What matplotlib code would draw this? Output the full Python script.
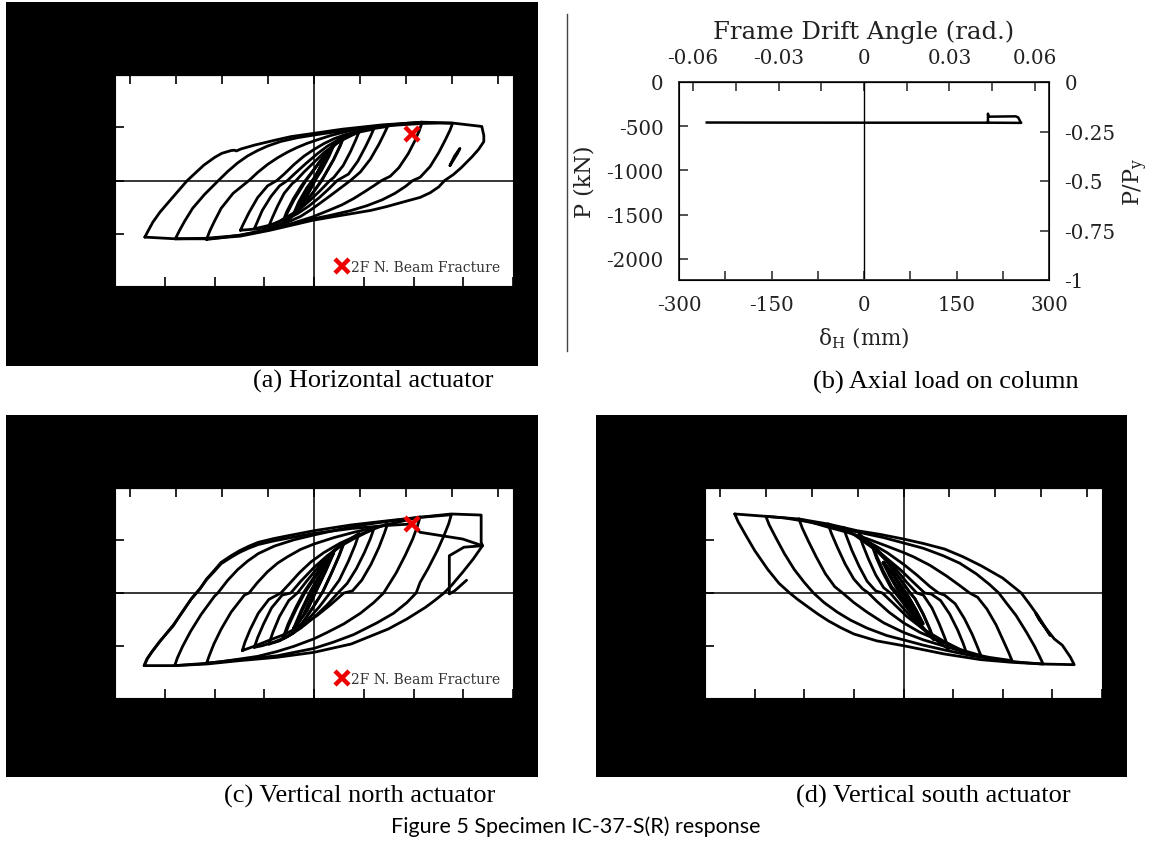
import numpy as np
import matplotlib
matplotlib.use("Agg")
import matplotlib.pyplot as plt

plt.rcParams["axes.unicode_minus"] = False
plt.rcParams["mathtext.fontset"] = "dejavuserif"

W, H = 1151, 845
STOREY_H = 4620.0  # mm, converts lateral displacement to frame drift angle
PY = 2238.0        # kN, column yield axial load

# ---------------- (a) horizontal actuator: displacement (mm) / force (kN) ----------------
horiz_x = [
    [-255, -250, -243, -232, -212, -191, -178, -166, -150, -139, -125, -120, -117, -110, -89, -60, -35, 0, 42, 103, 163, 209, 253,
     256, 256, 248, 238, 222, 210, 197, 188, 175, 160, 135, 110, 86, 42, -2, -35, -67, -111, -162, -209, -255],
    [-209, -203, -195, -183, -165, -144, -130, -115, -100, -85, -70, -50, -25, 0, 25, 55, 90, 125, 163, 190, 209,
     205, 198, 188, 175, 160, 149, 138, 122, 103, 80, 55, 25, -2, -35, -67, -111, -162, -209],
    [-162, -157, -150, -140, -122, -98, -85, -70, -55, -40, -25, -10, 5, 25, 45, 70, 103, 135, 163,
     159, 152, 142, 128, 115, 102, 90, 75, 60, 42, 20, -2, -35, -67, -111, -140, -162],
    [-111, -106, -98, -85, -70, -56, -45, -30, -15, 0, 15, 30, 45, 60, 80, 100, 111,
     106, 98, 85, 70, 55, 40, 25, 10, -5, -20, -40, -60, -85, -111],
    [-90, -85, -78, -65, -52, -40, -28, -12, 5, 20, 35, 50, 70, 90,
     85, 78, 66, 52, 35, 22, 8, -8, -25, -45, -65, -90],
    [-68, -63, -55, -45, -33, -27, -15, 0, 15, 30, 45, 58, 68,
     63, 55, 44, 30, 24, 10, -5, -20, -35, -52, -68],
    [-46, -40, -30, -18, -12, 0, 15, 28, 38, 46, 40, 30, 18, 12, 0, -15, -28, -38, -46],
    [-47, -41, -31, -19, -13, 0, 14, 27, 37, 45, 39, 29, 17, 11, -1, -16, -29, -39, -47],
    [-30, -22, -10, 0, 12, 22, 30, 22, 10, 0, -12, -22, -30],
    [-31, -23, -11, 1, 13, 23, 31, 23, 11, -1, -13, -23, -31],
    [-20, -8, 5, 12, 20, 10, -3, -12, -20],
    [-13, -4, 5, 13, 5, -4, -13],
    [205, 212, 220, 216, 208, 205],
]
horiz_y = [
    [-529, -470, -390, -294, -150, 0, 75, 144, 215, 254, 280, 283, 276, 295, 332, 375, 410, 441, 479, 520, 545, 537, 505,
     420, 363, 290, 220, 120, 55, 0, -60, -115, -158, -200, -243, -279, -325, -372, -420, -466, -520, -545, -545, -529],
    [-545, -470, -380, -260, -130, 0, 85, 165, 230, 280, 322, 365, 400, 425, 448, 472, 497, 518, 533, 537, 535,
     470, 380, 260, 130, 30, 0, -55, -120, -180, -235, -282, -325, -360, -410, -458, -512, -540, -545],
    [-551, -470, -380, -260, -120, 0, 75, 150, 212, 265, 310, 348, 380, 420, 452, 485, 512, 532, 545,
     470, 370, 250, 120, 40, 0, -50, -110, -168, -228, -285, -340, -405, -455, -510, -535, -551],
    [-465, -400, -300, -160, -50, 0, 60, 150, 228, 290, 345, 390, 424, 450, 476, 495, 505,
     440, 340, 200, 80, 0, -70, -140, -208, -275, -335, -390, -425, -452, -465],
    [-452, -380, -280, -150, -50, 0, 70, 160, 250, 320, 375, 415, 455, 480,
     410, 320, 180, 60, 0, -80, -160, -240, -310, -370, -415, -452],
    [-425, -350, -240, -120, -30, 0, 80, 170, 260, 330, 385, 425, 455,
     380, 270, 140, 30, 0, -90, -180, -260, -320, -380, -425],
    [-390, -300, -180, -60, 0, 100, 220, 310, 370, 425, 330, 200, 70, 0, -100, -220, -310, -360, -390],
    [-385, -290, -170, -50, 0, 105, 225, 315, 375, 420, 320, 190, 60, 0, -110, -230, -315, -365, -385],
    [-320, -210, -80, 20, 150, 260, 350, 240, 100, -10, -140, -250, -320],
    [-315, -200, -70, 30, 160, 265, 345, 230, 90, -20, -150, -255, -315],
    [-240, -100, 50, 140, 250, 130, -20, -130, -240],
    [-170, -50, 60, 175, 40, -70, -170],
    [140, 230, 300, 250, 170, 140],
]
horiz_fracture = (148, 438)

# ---------------- (b) axial load on column ----------------
axial_x = [-255, -150, 0, 150, 201, 201, 202, 246, 250, 254, 255, 230, 201]
axial_y = [-458, -459, -460, -460, -460, -358, -392, -388, -400, -455, -462, -461, -460]

# ---------------- (c) vertical north actuator ----------------
north_x = [
    [-256, -252, -245, -232, -212, -200, -185, -172, -162, -150, -140, -125, -112, -98, -84, -60, -39, 0, 56, 112, 160, 207, 252,
     252, 254, 240, 224, 207, 196, 182, 168, 140, 112, 56, 0, -56, -112, -162, -210, -256],
    [-256, -251, -244, -231, -212, -199, -185, -172, -162, -150, -140, -125, -112, -98, -84, -60, -39, 0, 56, 112, 147,
     160, 224, 254],
    [-210, -206, -198, -186, -170, -150, -145, -130, -115, -100, -84, -60, -30, 0, 40, 80, 120, 160, 207,
     203, 196, 186, 172, 160, 154, 140, 120, 95, 60, 30, 0, -56, -112, -162, -210],
    [-162, -158, -151, -140, -125, -105, -98, -85, -70, -55, -40, -20, 0, 30, 60, 95, 130, 160,
     156, 149, 138, 124, 110, 105, 90, 70, 45, 20, 0, -30, -56, -85, -112, -140, -162],
    [-108, -104, -96, -84, -68, -50, -38, -22, -5, 15, 40, 65, 90, 111,
     106, 98, 86, 72, 58, 45, 25, 5, -20, -45, -70, -90, -108],
    [-90, -85, -76, -64, -48, -35, -20, 0, 20, 40, 60, 78, 90,
     85, 76, 64, 50, 36, 20, 0, -20, -40, -60, -78, -90],
    [-68, -62, -52, -38, -25, -10, 10, 30, 50, 68, 62, 52, 38, 24, 8, -12, -32, -52, -68],
    [-46, -38, -26, -14, 0, 15, 30, 46, 38, 26, 14, 0, -15, -30, -46],
    [-47, -39, -27, -15, -1, 14, 29, 45, 37, 25, 13, -1, -16, -31, -47],
    [-30, -18, -5, 10, 30, 18, 5, -10, -30],
    [-31, -19, -6, 9, 29, 17, 4, -11, -31],
    [-15, -4, 7, 16, 5, -6, -15],
    [254, 226, 204, 204, 212, 230],
]
north_y = [
    [-682, -620, -557, -450, -307, -190, -56, 40, 131, 215, 288, 350, 398, 440, 476, 512, 538, 585, 639, 679, 712, 742, 732,
     476, 444, 319, 194, 69, 0, -70, -135, -244, -338, -479, -557, -604, -635, -667, -682, -682],
    [-682, -615, -550, -445, -300, -185, -55, 38, 125, 205, 275, 335, 382, 422, 455, 490, 515, 560, 605, 635, 648,
     570, 507, 444],
    [-682, -610, -500, -360, -200, -30, 0, 120, 220, 300, 370, 440, 500, 545, 600, 645, 680, 710, 735,
     650, 540, 400, 230, 100, 0, -90, -190, -280, -390, -460, -520, -590, -625, -660, -682],
    [-660, -590, -480, -340, -180, -20, 0, 100, 200, 280, 340, 410, 460, 520, 570, 620, 670, 715,
     630, 510, 360, 190, 50, 0, -90, -190, -290, -370, -430, -500, -550, -595, -620, -645, -660],
    [-540, -460, -340, -190, -60, 0, 80, 190, 290, 380, 470, 540, 600, 650,
     560, 430, 270, 120, 20, 0, -110, -210, -310, -390, -450, -500, -540],
    [-510, -420, -290, -140, -20, 0, 110, 240, 350, 440, 510, 565, 600,
     510, 380, 230, 90, 0, -110, -230, -330, -410, -460, -495, -510],
    [-480, -370, -220, -70, 0, 120, 270, 400, 490, 560, 450, 300, 120, 0, -130, -270, -380, -450, -480],
    [-430, -300, -140, 0, 130, 270, 390, 480, 350, 180, 20, -120, -260, -370, -430],
    [-425, -290, -130, 10, 140, 275, 392, 475, 340, 170, 10, -130, -268, -375, -425],
    [-340, -170, 0, 170, 380, 210, 40, -160, -340],
    [-335, -160, 10, 175, 370, 200, 30, -170, -335],
    [-200, -40, 100, 210, 70, -80, -200],
    [444, 430, 350, -9, 20, 120],
]
north_fracture = (147, 648)

# ---------------- (d) vertical south actuator ----------------
south_x = [
    [-255, -250, -240, -225, -205, -188, -172, -160, -147, -130, -114, -95, -75, -40, 0, 62, 117, 164, 211, 258,
     252, 240, 228, 215, 203, 190, 178, 150, 117, 90, 62, 30, 0, -35, -70, -114, -158, -208, -255],
    [-208, -203, -193, -180, -165, -150, -136, -120, -100, -80, -55, -25, 0, 30, 62, 100, 140, 175, 211,
     206, 198, 186, 170, 155, 144, 130, 110, 85, 60, 30, 0, -30, -60, -90, -120, -150, -180, -208],
    [-158, -153, -144, -132, -118, -104, -92, -75, -55, -30, 0, 30, 62, 95, 130, 164,
     159, 151, 140, 126, 112, 100, 85, 65, 40, 15, 0, -25, -55, -85, -115, -140, -158],
    [-114, -109, -100, -88, -75, -62, -53, -40, -22, 0, 25, 55, 85, 117,
     112, 104, 92, 78, 62, 53, 40, 20, 0, -25, -50, -75, -95, -114],
    [-91, -86, -78, -67, -55, -42, -32, -15, 5, 30, 60, 95,
     90, 82, 70, 56, 42, 32, 15, -5, -30, -55, -75, -91],
    [-67, -62, -53, -42, -30, -20, -5, 15, 40, 68, 63, 54, 43, 30, 20, 5, -15, -40, -67],
    [-46, -40, -30, -18, -10, 5, 25, 46, 40, 30, 18, 10, -5, -25, -46],
    [-47, -41, -31, -19, -11, 4, 24, 45, 39, 29, 17, 9, -6, -26, -47],
    [-30, -20, -8, 5, 18, 30, 20, 8, -5, -18, -30],
    [-31, -21, -9, 4, 17, 29, 19, 7, -6, -19, -31],
    [-15, -5, 6, 15, 5, -6, -15],
    [200, 210, 222, 215, 205, 200],
]
south_y = [
    [742, 670, 560, 400, 220, 90, 0, -60, -119, -195, -260, -325, -385, -450, -495, -573, -626, -651, -667, -673,
     -600, -490, -432, -330, -213, -100, 0, 140, 257, 340, 413, 465, 507, 550, 585, 648, 695, 720, 742],
    [720, 640, 520, 370, 220, 100, 0, -90, -180, -255, -330, -400, -440, -490, -535, -585, -625, -650, -667,
     -600, -500, -370, -210, -90, 0, 80, 180, 280, 350, 420, 470, 520, 560, 600, 640, 675, 705, 720],
    [695, 610, 490, 340, 180, 60, 0, -90, -180, -280, -370, -440, -500, -560, -605, -635,
     -560, -450, -300, -150, -40, 0, 70, 160, 260, 340, 380, 440, 510, 570, 620, 665, 695],
    [648, 560, 430, 270, 130, 40, 0, -80, -180, -280, -370, -450, -530, -588,
     -510, -390, -240, -100, -20, 0, 60, 170, 270, 380, 470, 550, 605, 648],
    [617, 530, 400, 250, 110, 20, 0, -100, -220, -340, -450, -560,
     -470, -350, -200, -70, -10, 0, 100, 220, 350, 460, 550, 617],
    [554, 460, 320, 170, 50, 0, -110, -250, -400, -526, -430, -290, -140, -20, 0, 100, 250, 410, 554],
    [440, 340, 200, 60, 0, -120, -290, -440, -340, -200, -60, 0, 130, 300, 440],
    [435, 330, 190, 50, -10, -130, -295, -435, -330, -190, -50, 10, 140, 305, 435],
    [290, 170, 40, -80, -200, -290, -170, -40, 80, 200, 290],
    [285, 160, 30, -90, -205, -285, -160, -30, 90, 205, 285],
    [170, 60, -60, -165, -50, 70, 170],
    [-190, -290, -400, -330, -250, -190],
]

CAPTIONS = ["(a) Horizontal actuator", "(b) Axial load on column",
            "(c) Vertical north actuator", "(d) Vertical south actuator"]
FIG_TITLE = "Figure 5 Specimen IC-37-S(R) response"
FRACTURE_LABEL = "2F N. Beam Fracture"

fig = plt.figure(figsize=(W / 100, H / 100), dpi=100)
fig.patch.set_facecolor("white")


def box(x0, y0, x1, y1):
    return [x0 / W, 1 - y1 / H, (x1 - x0) / W, (y1 - y0) / H]


def backdrop(x0, y0, x1, y1):
    bg = fig.add_axes(box(x0, y0, x1, y1))
    bg.set_facecolor("black")
    bg.set_xticks([])
    bg.set_yticks([])
    for s in bg.spines.values():
        s.set_visible(False)


def to_drift(d):
    return d / STOREY_H


def to_disp(r):
    return r * STOREY_H


def hysteresis(rect, xs, ys, fracture=None):
    ax = fig.add_axes(box(*rect))
    ax.set_facecolor("white")
    for x, y in zip(xs, ys):
        ax.plot(x, y, color="black", lw=2.0, solid_joinstyle="round",
                solid_capstyle="round", zorder=3)
    ax.axhline(0, color="black", lw=1.1, zorder=2)
    ax.axvline(0, color="black", lw=1.1, zorder=2)
    ax.set_xlim(-300, 300)
    ax.set_ylim(-986, 986)
    ax.set_xticks(np.arange(-300, 301, 75))
    ax.set_xticklabels([])
    ax.set_yticks([-500, 0, 500])
    ax.set_yticklabels([])
    ax.tick_params(direction="in", length=6.5, width=1.2, top=False, right=False)
    top = ax.secondary_xaxis("top", functions=(to_drift, to_disp))
    top.set_xticks(np.linspace(-0.06, 0.06, 9))
    top.set_xticklabels([])
    top.tick_params(direction="in", length=6.5, width=1.2)
    if fracture is not None:
        ax.plot([fracture[0]], [fracture[1]], ls="none", marker="x", ms=10,
                mew=3.2, color="#ee0000", zorder=5, label=FRACTURE_LABEL)
        ax.legend(loc="lower right", frameon=False, handlelength=1.0,
                  handletextpad=0.15, borderaxespad=0.5,
                  prop={"family": "DejaVu Serif", "size": 10},
                  labelcolor="#333333")
    return ax


# panel backdrops and hysteresis plots
backdrop(6, 3, 538, 367)
hysteresis((115, 76, 513, 287), horiz_x, horiz_y, horiz_fracture)
backdrop(6, 416, 538, 778)
hysteresis((115, 489, 513, 699), north_x, north_y, north_fracture)
backdrop(596, 416, 1127, 778)
hysteresis((705, 489, 1102, 699), south_x, south_y)

# separator line
fig.add_artist(plt.Line2D([567 / W, 567 / W], [1 - 15 / H, 1 - 352 / H],
                          color="#444444", lw=1.0))

# ---------------- (b) ----------------
serif = {"family": "DejaVu Serif"}
TICK_FS = 14.3
axb = fig.add_axes(box(679, 83, 1049, 281))
axb.plot(axial_x, axial_y, color="black", lw=1.8, solid_joinstyle="round")
axb.axvline(0, color="black", lw=1.0)
axb.set_xlim(-300, 300)
axb.set_ylim(-PY, 0)
axb.set_xticks(np.arange(-300, 301, 75))
axb.set_xticklabels(["-300", "", "-150", "", "0", "", "150", "", "300"], fontdict=serif, fontsize=TICK_FS)
axb.set_yticks([-2000, -1500, -1000, -500, 0])
axb.set_yticklabels(["-2000", "-1500", "-1000", "-500", "0"], fontdict=serif, fontsize=TICK_FS)
axb.tick_params(direction="in", length=6.5, width=1.1, pad=11, colors="#222222", labelcolor="#222222")
for s in axb.spines.values():
    s.set_linewidth(1.4)
    s.set_color("#333333")

axr = axb.twinx()
axr.set_ylim(-1, 0)
axr.set_yticks([-1, -0.75, -0.5, -0.25, 0])
axr.set_yticklabels(["-1", "-0.75", "-0.5", "-0.25", "0"], fontdict=serif, fontsize=TICK_FS)
axr.tick_params(direction="in", length=6.5, width=1.1, pad=11, colors="#222222", labelcolor="#222222")

axt = axb.secondary_xaxis("top", functions=(to_drift, to_disp))
axt.set_xticks(np.linspace(-0.06, 0.06, 9))
axt.set_xticklabels(["-0.06", "", "-0.03", "", "0", "", "0.03", "", "0.06"], fontdict=serif, fontsize=TICK_FS)
axt.tick_params(direction="in", length=6.5, width=1.1, pad=11, colors="#222222", labelcolor="#222222")


def ftext(x, y, s, **kw):
    fig.text(x / W, 1 - y / H, s, ha="center", va="center", **kw)


ftext(864, 32, "Frame Drift Angle (rad.)", family="DejaVu Serif", fontsize=17.6, color="#222222")
ftext(864, 338, "δ$_{\\rm H}$ (mm)", family="DejaVu Serif", fontsize=15.5, color="#222222")
ftext(584, 182, "P (kN)", family="DejaVu Serif", fontsize=16, rotation=90, color="#222222")
ftext(1136, 182, r"P/P$_{\rm y}$", family="DejaVu Serif", fontsize=16, rotation=90, color="#222222")

# captions
cap = {"family": "Liberation Serif", "fontsize": 19, "color": "black"}
ftext(373, 381, CAPTIONS[0], **cap)
ftext(946, 382, CAPTIONS[1], **cap)
ftext(360, 796, CAPTIONS[2], **cap)
ftext(933, 796, CAPTIONS[3], **cap)
ftext(576, 827, FIG_TITLE, family="Lato", fontsize=15.5, color="black")

fig.savefig("out.png", dpi=100)
